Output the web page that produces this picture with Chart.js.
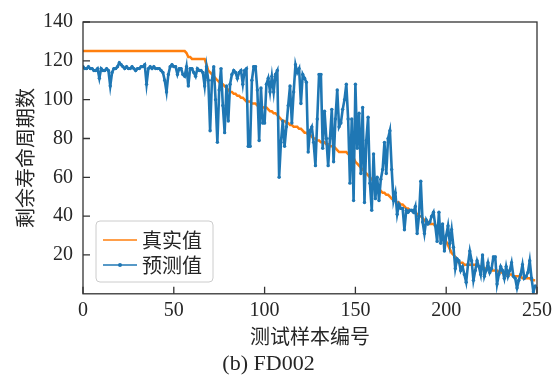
<!DOCTYPE html>
<html>
<head>
<meta charset="utf-8">
<script src="https://cdn.jsdelivr.net/npm/chart.js@4.4.1/dist/chart.umd.min.js"></script>
<style>
  html, body { margin: 0; padding: 0; background: #fff; }
  #box { width: 559px; height: 379px; }
</style>
</head>
<body>
<div id="box"><canvas id="graficoRul"></canvas></div>
<script>
// ======== DADOS ========
const xTicks = [0, 50, 100, 150, 200, 250];
const yTicks = [20, 40, 60, 80, 100, 120, 140];

// 真实值 (valor real do RUL, ordenado)
const realValues = [
    125, 125, 125, 125, 125, 125, 125, 125, 125, 125,
    125, 125, 125, 125, 125, 125, 125, 125, 125, 125,
    125, 125, 125, 125, 125, 125, 125, 125, 125, 125,
    125, 125, 125, 125, 125, 125, 125, 125, 125, 125,
    125, 125, 125, 125, 125, 125, 125, 125, 125, 125,
    125, 125, 125, 125, 125, 125, 125, 124, 122, 122,
    121, 121, 121, 121, 121, 121, 121, 121, 118, 115,
    114, 113, 112, 111, 110, 109, 108, 108, 107, 106,
    105, 104, 104, 103, 103, 102, 102, 101, 101, 100,
    99, 99, 99, 98, 98, 98, 97, 97, 97, 96,
    96, 96, 95, 94, 94, 93, 93, 92, 91, 90,
    89, 89, 88, 88, 87, 87, 86, 86, 86, 85,
    85, 84, 83, 83, 82, 82, 81, 80, 80, 79,
    79, 78, 78, 78, 77, 77, 76, 76, 76, 75,
    74, 73, 73, 73, 73, 73, 72, 72, 72, 70,
    68, 67, 66, 65, 64, 63, 62, 61, 60, 59,
    58, 56, 55, 54, 53, 52, 52, 51, 51, 50,
    49, 49, 48, 47, 47, 46, 46, 45, 44, 44,
    43, 43, 42, 42, 41, 40, 40, 39, 38, 37,
    37, 36, 36, 36, 35, 35, 33, 32, 30, 28,
    27, 25, 23, 21, 20, 19, 17, 16, 16, 16,
    15, 15, 15, 15, 15, 15, 15, 15, 14, 14,
    14, 13, 13, 13, 13, 12, 12, 12, 12, 11,
    11, 11, 11, 10, 10, 10, 10, 9, 9, 9,
    9, 9, 8, 8, 8, 8, 8, 7, 7, 7
];

// 预测值 (valor previsto)
const predValues = [
    117, 116, 116, 117, 116, 116, 115, 115, 116, 111,
    116, 115, 115, 116, 115, 107, 114, 116, 116, 117,
    119, 118, 117, 116, 117, 116, 116, 117, 116, 115,
    116, 116, 117, 117, 118, 108, 116, 117, 116, 117,
    116, 116, 116, 115, 114, 110, 104, 113, 117, 118,
    117, 117, 113, 116, 116, 113, 112, 117, 107, 116,
    116, 114, 112, 116, 115, 115, 114, 107, 117, 110,
    84, 110, 117, 100, 78, 105, 116, 97, 83, 107,
    89, 108, 113, 115, 114, 111, 114, 115, 108, 115,
    116, 76, 76, 110, 117, 117, 105, 79, 106, 88,
    88, 108, 111, 104, 112, 104, 113, 115, 60, 78,
    89, 76, 86, 97, 107, 88, 104, 118, 114, 116,
    98, 113, 111, 109, 73, 84, 86, 78, 66, 90,
    113, 113, 75, 94, 80, 66, 80, 95, 68, 90,
    105, 86, 88, 95, 100, 108, 90, 57, 90, 48,
    108, 75, 93, 62, 96, 47, 79, 91, 57, 43,
    72, 49, 60, 48, 59, 64, 78, 62, 80, 84,
    64, 48, 52, 41, 46, 44, 44, 33, 43, 42,
    43, 43, 42, 45, 31, 40, 58, 37, 31, 38,
    36, 37, 40, 42, 35, 27, 42, 26, 36, 22,
    30, 35, 26, 33, 24, 13, 18, 17, 12, 14,
    10, 6, 15, 22, 17, 7, 12, 17, 14, 10,
    20, 9, 12, 16, 11, 13, 19, 19, 5, 10,
    14, 12, 8, 14, 9, 12, 16, 9, 8, 3,
    7, 10, 15, 8, 9, 11, 17, 8, 1, 4
];

const corReal = "#ff7f0e";
const corPred = "#1f77b4";
const corEixo = "#333333";
const fonteSerif = "'Liberation Serif', 'DejaVu Serif', serif";
const fonteCJK = "'Noto Sans CJK SC', 'Noto Sans', sans-serif";

// ======== MOLDURA, TICKS PARA DENTRO E LEGENDA ========
const molduraPlugin = {
    id: "moldura",
    afterDatasetsDraw(chart) {
        const { ctx, chartArea: a, scales: { x, y } } = chart;
        ctx.save();
        ctx.strokeStyle = corEixo;
        ctx.lineWidth = 1.3;
        ctx.strokeRect(a.left, a.top, a.right - a.left, a.bottom - a.top);

        ctx.beginPath();
        xTicks.forEach(v => {
            const px = x.getPixelForValue(v);
            ctx.moveTo(px, a.bottom);
            ctx.lineTo(px, a.bottom - 7);
        });
        yTicks.forEach(v => {
            const py = y.getPixelForValue(v);
            ctx.moveTo(a.left, py);
            ctx.lineTo(a.left + 7, py);
        });
        ctx.stroke();

        // legenda
        const lx = a.left + 13, ly = 221, lw = 117, lh = 61;
        ctx.beginPath();
        ctx.roundRect(lx, ly, lw, lh, 4);
        ctx.fillStyle = "rgba(255,255,255,0.8)";
        ctx.fill();
        ctx.strokeStyle = "#cccccc";
        ctx.lineWidth = 1;
        ctx.stroke();

        const itens = chart.data.datasets.slice().reverse();
        itens.forEach((ds, i) => {
            const yy = ly + 19 + i * 25;
            ctx.strokeStyle = ds.borderColor;
            ctx.lineWidth = 1.3;
            ctx.beginPath();
            ctx.moveTo(lx + 7, yy);
            ctx.lineTo(lx + 41, yy);
            ctx.stroke();
            if (ds.pointRadius > 0) {
                ctx.fillStyle = ds.borderColor;
                ctx.beginPath();
                ctx.arc(lx + 24, yy, 2, 0, Math.PI * 2);
                ctx.fill();
            }
            ctx.fillStyle = "#262626";
            ctx.font = "20px " + fonteCJK;
            ctx.textBaseline = "middle";
            ctx.textAlign = "left";
            ctx.fillText(ds.label, lx + 46, yy);
        });
        ctx.restore();
    }
};

// ======== GRÁFICO ========
const graficoRul = document.getElementById("graficoRul");

new Chart(graficoRul, {
    type: "line",
    data: {
        datasets: [
            {
                label: "预测值",
                data: predValues.map((v, i) => ({ x: i, y: v })),
                borderColor: corPred,
                backgroundColor: corPred,
                borderWidth: 2.6,
                pointRadius: 1.7,
                pointBorderWidth: 0,
                pointBackgroundColor: corPred,
                tension: 0
            },
            {
                label: "真实值",
                data: realValues.map((v, i) => ({ x: i, y: v })),
                borderColor: corReal,
                backgroundColor: corReal,
                borderWidth: 2.5,
                pointRadius: 0,
                tension: 0
            }
        ]
    },
    options: {
        responsive: true,
        maintainAspectRatio: false,
        animation: false,
        layout: { padding: { top: 15, right: 22, left: 0, bottom: 0 } },
        plugins: {
            legend: { display: false },
            tooltip: { enabled: false },
            title: {
                display: true,
                position: "bottom",
                text: "(b) FD002",
                color: "#262626",
                font: { family: fonteSerif, size: 22, weight: "normal", lineHeight: 1.1 },
                padding: { top: 0, bottom: 3 }
            }
        },
        scales: {
            x: {
                type: "linear",
                min: 0,
                max: 250,
                grid: { display: false, drawTicks: false },
                border: { display: false },
                ticks: {
                    stepSize: 50,
                    padding: 5,
                    color: "#262626",
                    font: { family: fonteSerif, size: 20 },
                    maxRotation: 0
                },
                title: {
                    display: true,
                    text: "测试样本编号",
                    color: "#262626",
                    font: { family: fonteCJK, size: 20 },
                    padding: { top: 0, bottom: 3 }
                },
                afterFit(scale) { scale.height = 58; }
            },
            y: {
                min: 0,
                max: 140,
                grid: { display: false, drawTicks: false },
                border: { display: false },
                ticks: {
                    stepSize: 20,
                    padding: 10,
                    color: "#262626",
                    font: { family: fonteSerif, size: 20 },
                    callback: v => (v === 0 ? "" : v)
                },
                title: {
                    display: true,
                    text: "剩余寿命周期数",
                    color: "#262626",
                    font: { family: fonteCJK, size: 20 },
                    padding: { top: 13, bottom: 0 }
                },
                afterFit(scale) { scale.width = 83; }
            }
        }
    },
    plugins: [molduraPlugin]
});
</script>
</body>
</html>
